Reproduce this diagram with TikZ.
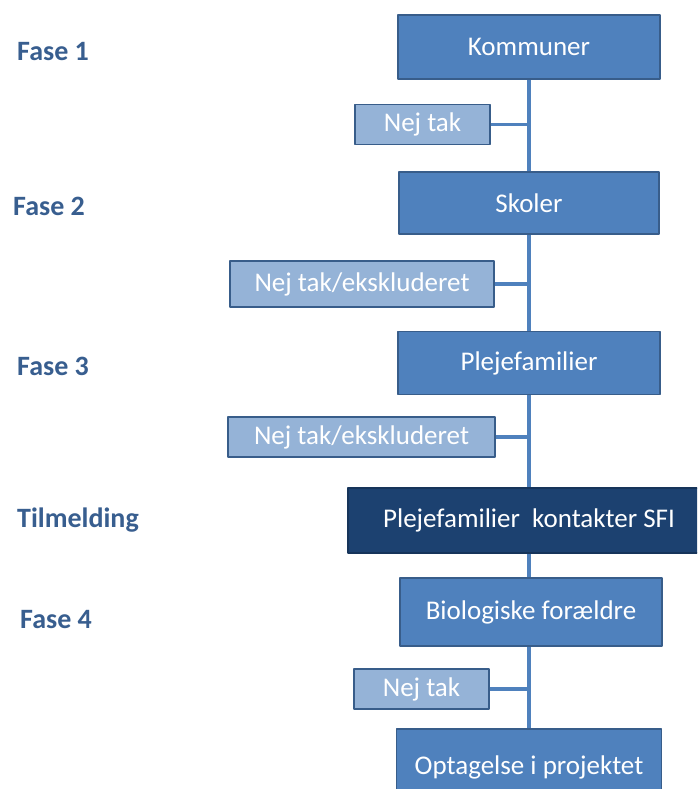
\documentclass[tikz,border=0pt]{standalone}
\usepackage{fontspec}
\setmainfont{Carlito}
\usetikzlibrary{positioning}

\definecolor{fasetext}{RGB}{56,94,143}
\definecolor{boxfill}{RGB}{79,129,189}
\definecolor{boxline}{RGB}{56,93,138}
\definecolor{lightfill}{RGB}{149,179,215}
\definecolor{darkfill}{RGB}{28,65,112}

\tikzset{
  mainbox/.style={draw=boxline,line width=1.6pt,fill=boxfill,text=white,
    minimum width=262pt,minimum height=64pt,inner sep=0pt,
    font=\fontsize{27}{32}\selectfont},
  darkbox/.style={mainbox,fill=darkfill,draw=darkfill!80!black},
  nobox/.style={draw=boxline,line width=1.6pt,fill=lightfill,text=white,
    minimum height=40pt,inner sep=0pt,
    font=\fontsize{27}{32}\selectfont},
  faselabel/.style={anchor=base west,inner sep=0pt,text=fasetext,
    font=\fontsize{28}{32}\selectfont\bfseries},
  stem/.style={draw=boxfill,line width=3.2pt},
}

\begin{document}
\begin{tikzpicture}[x=1pt,y=-1pt,line join=bevel]
\clip (0,0) rectangle (697,789);
%%
\node (fase1) at (17,61) [faselabel] {Fase 1};
\node (fase2) at (13,215) [faselabel] {Fase 2};
\node (fase3) at (17,375) [faselabel] {Fase 3};
\node (tilm) at (17,527) [faselabel] {Tilmelding};
\node (fase4) at (20,628) [faselabel] {Fase 4};
%
\node (komm) at (529,47) [mainbox] {Kommuner};
\node (skol) at (529,203) [mainbox,minimum width=260pt,minimum height=62pt] {Skoler};
\node (pleje) at (529,363) [mainbox,minimum height=63pt] {Plejefamilier};
\node (sfi) at (529,520.5) [darkbox,minimum width=362pt,minimum height=65pt] {Plejefamilier\ \ kontakter SFI};
\node (bio) at (531,612) [mainbox,minimum height=68pt] {Biologiske forældre};
\node (optag) at (529,767) [mainbox,minimum width=265pt,minimum height=76pt] {Optagelse i projektet};
%
\node (nej1) at (422.5,124.5) [nobox,minimum width=135pt] {Nej tak};
\node (nejeks1) at (362,284) [nobox,minimum width=264pt,minimum height=46pt] {Nej tak/ekskluderet};
\node (nejeks2) at (361.5,437) [nobox,minimum width=267pt] {Nej tak/ekskluderet};
\node (nej2) at (421.5,689) [nobox,minimum width=135pt] {Nej tak};
%
\draw [stem] (komm.south) -- (skol.north);
\draw [stem] (skol.south) -- (pleje.north);
\draw [stem] (pleje.south) -- (sfi.north);
\draw [stem] (sfi.south) -- (sfi.south |- bio.north);
\draw [stem] (bio.south -| komm.south) -- (optag.north);
\draw [stem] (nej1.east) -- (nej1.east -| komm.south);
\draw [stem] (nejeks1.east) -- (nejeks1.east -| skol.south);
\draw [stem] (nejeks2.east) -- (nejeks2.east -| pleje.south);
\draw [stem] (nej2.east) -- (nej2.east -| optag.north);
%
\end{tikzpicture}
\end{document}
